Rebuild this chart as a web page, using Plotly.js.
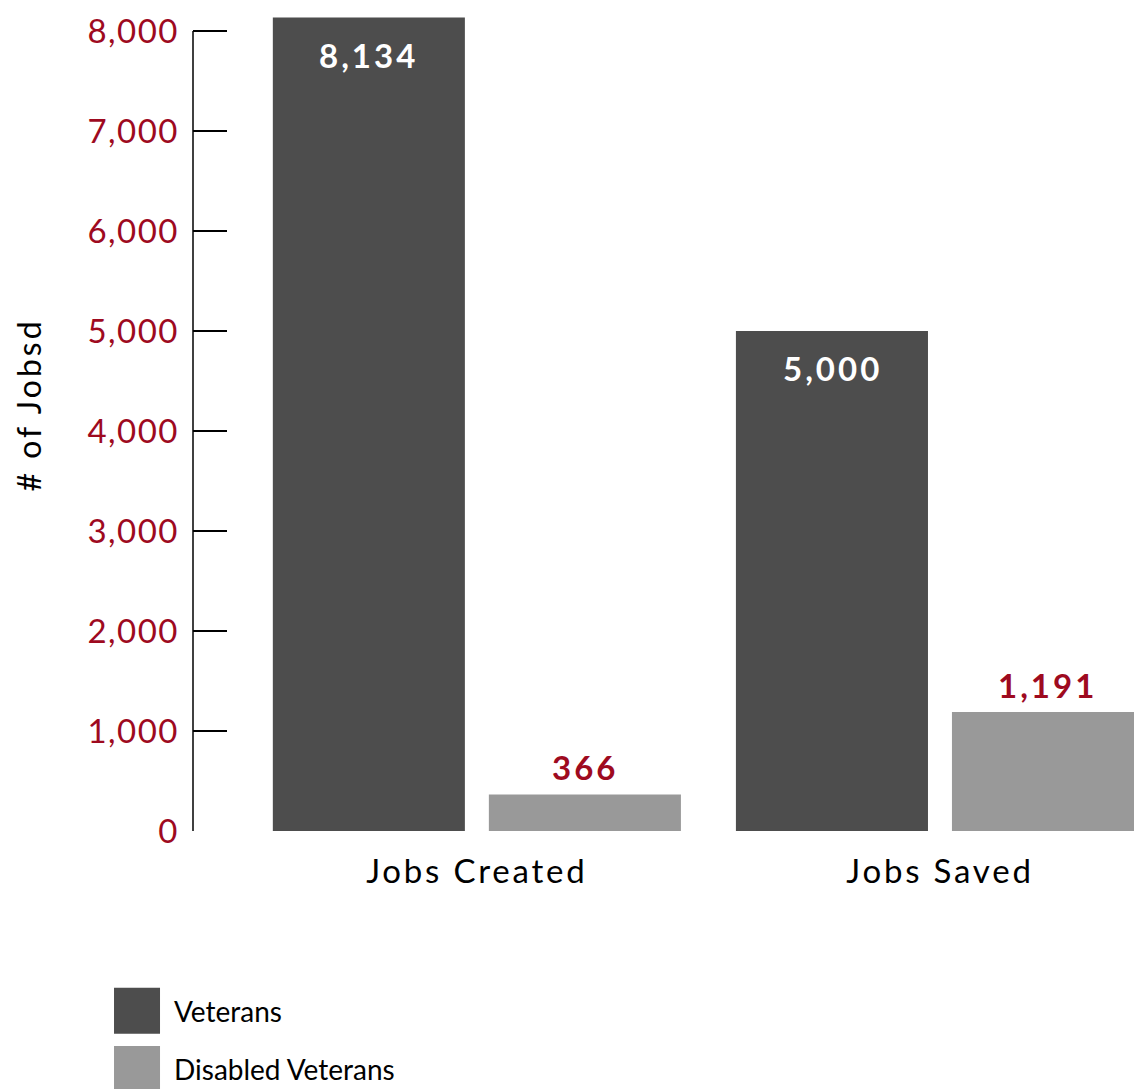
<!DOCTYPE html>
<html>
<head>
<meta charset="utf-8">
<script src="https://cdn.plot.ly/plotly-3.0.1.min.js"></script>
<style>
  html, body { margin: 0; padding: 0; background: #fff; }
  #chart { width: 1134px; height: 1089px; }
  .xtick text { letter-spacing: 2.8px; }
  .ytick text { letter-spacing: 1.5px; }
  .annotation-text { letter-spacing: 3px; }
  .legend .legendpoints path { d: path("M23,23H-23V-23H23Z"); }
</style>
</head>
<body>
<div id="chart"></div>
<script>
const categories = ["Jobs Created", "Jobs Saved"];
const seriesNames = ["Veterans", "Disabled Veterans"];
const veterans = [8134, 5000];
const disabledVeterans = [366, 1191];
const yTickVals = [0, 1000, 2000, 3000, 4000, 5000, 6000, 7000, 8000];
const yTickText = ["0", "1,000", "2,000", "3,000", "4,000", "5,000", "6,000", "7,000", "8,000"];
const yAxisTitle = "# of Jobsd";

const darkColor = "#4d4d4d";
const lightColor = "#999999";
const red = "#9e0a1f";
const fontFamily = "Lato, 'Open Sans', sans-serif";

const fmt = v => v.toLocaleString("en-US");

const traces = [
  { type: "bar", name: seriesNames[0], x: categories, y: veterans,
    marker: { color: darkColor }, legendgroup: "a", hoverinfo: "x+y" },
  { type: "bar", name: seriesNames[1], x: categories, y: disabledVeterans,
    marker: { color: lightColor }, legendgroup: "b", hoverinfo: "x+y" }
];

const annotations = [];
categories.forEach((c, i) => {
  annotations.push({ x: i - 0.233, y: veterans[i], xref: "x", yref: "y",
    text: fmt(veterans[i]), showarrow: false, yanchor: "top", yshift: -15,
    font: { family: fontFamily, size: 33, color: "#ffffff", weight: 700 } });
  annotations.push({ x: i + 0.233, y: disabledVeterans[i], xref: "x", yref: "y",
    text: fmt(disabledVeterans[i]), showarrow: false, yanchor: "bottom", yshift: 5,
    font: { family: fontFamily, size: 33, color: red, weight: 700 } });
});
annotations.push({ x: -0.1753, y: 0.512, xref: "paper", yref: "paper", text: yAxisTitle,
  showarrow: false, textangle: -90, xanchor: "center", yanchor: "middle",
  font: { family: fontFamily, size: 32, color: "#000000" } });

const layout = {
  width: 1134, height: 1089,
  margin: { l: 193, r: 0, t: 0, b: 258, pad: 0, autoexpand: false },
  paper_bgcolor: "#ffffff", plot_bgcolor: "#ffffff",
  font: { family: fontFamily },
  barmode: "group", bargap: 0.067, bargroupgap: 0.111,
  showlegend: true,
  legend: {
    xref: "container", yref: "paper", x: 0.0882, y: -0.3165, xanchor: "left", yanchor: "bottom",
    orientation: "v", traceorder: "grouped", tracegroupgap: 19, itemwidth: 64,
    font: { family: fontFamily, size: 28, color: "#000000" }, bgcolor: "rgba(0,0,0,0)"
  },
  xaxis: {
    type: "category", range: [-0.613, 1.419], showline: false, ticks: "", showgrid: false,
    zeroline: false, automargin: false, tickfont: { family: fontFamily, size: 33, color: "#000000" },
    ticklabelstandoff: 18
  },
  yaxis: {
    range: [0, 8310], tickvals: yTickVals, ticktext: yTickText, showgrid: false, zeroline: false,
    showline: false, ticks: "inside", ticklen: 34, tickwidth: 1.5, tickcolor: "#000000",
    automargin: false,
    tickfont: { family: fontFamily, size: 33, color: red }, ticklabelstandoff: 13
  },
  shapes: [
    { type: "line", xref: "paper", yref: "y", x0: 0, x1: 0, y0: 0, y1: 8000,
      line: { color: "#000000", width: 1.5 } }
  ],
  annotations: annotations
};

Plotly.newPlot("chart", traces, layout, { displayModeBar: false, staticPlot: true });
</script>
</body>
</html>
